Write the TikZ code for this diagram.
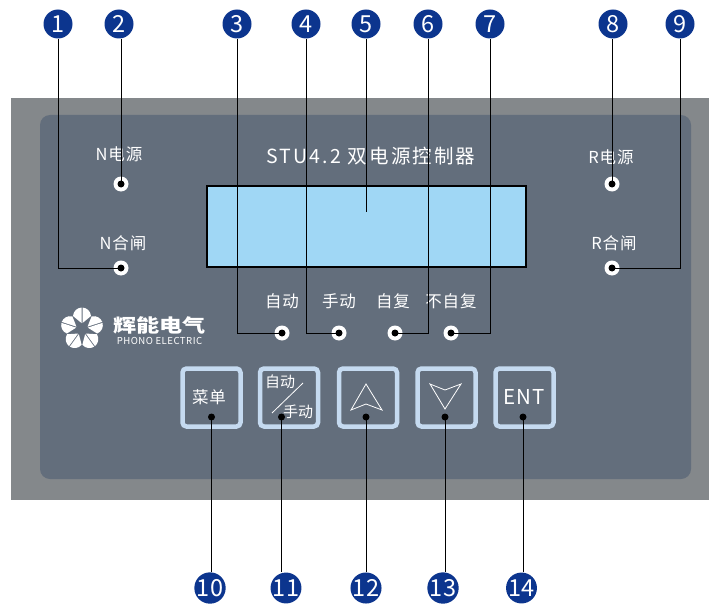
\documentclass[tikz,border=0pt]{standalone}
\usepackage{fontspec}
\setmainfont{Noto Sans CJK SC}
\newfontfamily\widefont[LetterSpace=11]{Noto Sans CJK SC}
\newfontfamily\labelfont[LetterSpace=5]{Noto Sans CJK SC}
\definecolor{casegray}{HTML}{84888B}
\definecolor{panelgray}{HTML}{636E7C}
\definecolor{lcdblue}{HTML}{A0D7F5}
\definecolor{numblue}{HTML}{0C358E}
\definecolor{keyblue}{HTML}{C5DAF0}
\begin{document}
\begin{tikzpicture}[
  x=1pt, y=-1pt,
  bubble/.style={circle, fill=numblue, text=white, minimum size=29pt, inner sep=0pt,
                 font=\fontsize{23.5}{24}\selectfont},
  led/.style={circle, fill=white, minimum size=15pt, inner sep=0pt},
  pin/.style={circle, fill=black, minimum size=7pt, inner sep=0pt},
  keybox/.style={rectangle, draw=keyblue, line width=4.5pt, fill=panelgray, rounded corners=4pt,
                 minimum size=58pt, inner sep=0pt},
  lbl/.style={text=white, inner sep=0pt, font=\labelfont\fontsize{16.5}{17}\selectfont},
  leader/.style={draw=black, line width=0.9pt},
  glyph/.style={draw=white, line width=0.8pt}
]
  \useasboundingbox (0, 0) rectangle (709, 607);

  % Case and panel
  \fill[casegray] (11, 98) rectangle (709, 500);
  \fill[panelgray, rounded corners=10pt] (40, 115) rectangle (691, 479);
  \node[draw=black, line width=2pt, fill=lcdblue, minimum width=319pt, minimum height=81pt,
        inner sep=0pt] (lcd) at (366, 226) {};
  \coordinate (lcdmid) at (366, 212);

  % Labels
  \node[text=white, inner sep=0pt, font=\widefont\fontsize{19.5}{20}\selectfont] (title) at (371, 156) {STU4.2 双电源控制器};
  \node[lbl] (nsrc) at (119, 154) {N电源};
  \node[lbl] (nclose) at (123, 243) {N合闸};
  \node[lbl] (rsrc) at (611, 157) {R电源};
  \node[lbl] (rclose) at (614, 243) {R合闸};
  \node[lbl] (lauto) at (282, 301) {自动};
  \node[lbl] (lmanual) at (339, 301) {手动};
  \node[lbl] (lself) at (393, 301) {自复};
  \node[lbl] (lnoself) at (451, 301) {不自复};

  % Logo
  \foreach \a in {0, 72, 144, 216, 288} {
    \begin{scope}[shift={(82, 329)}, rotate=\a]
      \fill[white] (0.5, -6) -- (9, -13) .. controls (8.5, -18) and (5, -21) .. (0.5, -21.5) -- cycle;
      \fill[white] (-0.5, -6) -- (-9, -13) .. controls (-8.5, -18) and (-5, -21) .. (-0.5, -21.5) -- cycle;
    \end{scope}
  }
  \node[text=white, inner sep=0pt, xscale=1.25, transform shape,
        font=\bfseries\fontsize{18.5}{19}\selectfont] (logocn) at (159.5, 325) {辉能电气};
  \node[text=white, inner sep=0pt, font=\labelfont\fontsize{9.6}{10}\selectfont] (logoen) at (159.5, 340.5) {PHONO ELECTRIC};

  % Keys
  \node[keybox] (k1) at (211.5, 397.5) {};
  \node[keybox] (k2) at (289, 397.5) {};
  \node[keybox] (k3) at (368, 397.5) {};
  \node[keybox] (k4) at (446.5, 397.5) {};
  \node[keybox] (k5) at (524.5, 397.5) {};
  \node[lbl] (tmenu) at (209, 397) {菜单};
  \node[text=white, inner sep=0pt, font=\fontsize{15}{15}\selectfont] (tauto) at (280, 382) {自动};
  \node[text=white, inner sep=0pt, font=\fontsize{15}{15}\selectfont] (tmanual) at (298, 412) {手动};
  \draw[glyph] (272, 413) -- (303, 383);
  \draw[glyph] (366, 384) -- (382, 410) -- (366, 404) -- (351, 410) -- cycle;
  \draw[glyph] (445, 409) -- (461, 384) -- (445, 390) -- (430, 384) -- cycle;
  \node[text=white, inner sep=0pt, font=\labelfont\fontsize{20.5}{21}\selectfont] (tent) at (524, 397) {ENT};

  % Indicator lamps
  \node[led] (d1) at (121, 268) {};
  \node[led] (d2) at (121, 184) {};
  \node[led] (d3) at (282, 333) {};
  \node[led] (d4) at (339, 333) {};
  \node[led] (d6) at (395, 333) {};
  \node[led] (d7) at (451, 333) {};
  \node[led] (d8) at (612, 184) {};
  \node[led] (d9) at (612, 268) {};

  % Key points
  \coordinate (d10) at (211.5, 417);
  \coordinate (d11) at (281.5, 417);
  \coordinate (d12) at (366, 417);
  \coordinate (d13) at (445, 417);
  \coordinate (d14) at (523, 417);

  % Numbers
  \foreach \n/\x in {1/58, 2/119, 3/237, 4/306, 5/366, 6/428, 7/490, 8/613, 9/680}
    \node[bubble] (b\n) at (\x, 24) {\n};
  \foreach \n/\x in {10/210, 11/286, 12/366, 13/443, 14/521.5}
    \node[bubble] (b\n) at (\x, 588) {\n};

  % Top leaders
  \draw[leader] (b1.south) |- (d1.center);
  \draw[leader] (d2.center) -- (d2 |- b2.south);
  \draw[leader] (b3.south) |- (d3.center);
  \draw[leader] (b4.south) |- (d4.center);
  \draw[leader] (b5.south) -- (lcdmid);
  \draw[leader] (b6.south) |- (d6.center);
  \draw[leader] (b7.south) |- (d7.center);
  \draw[leader] (d8.center) -- (d8 |- b8.south);
  \draw[leader] (b9.south) |- (d9.center);

  % Bottom leaders
  \foreach \n in {10, 11, 12, 13, 14}
    \draw[leader] (d\n) -- (d\n |- b\n.north);

  % Black dots
  \foreach \n in {1, 2, 3, 4, 6, 7, 8, 9, 10, 11, 12, 13, 14}
    \node[pin] (p\n) at (d\n) {};
\end{tikzpicture}
\end{document}
